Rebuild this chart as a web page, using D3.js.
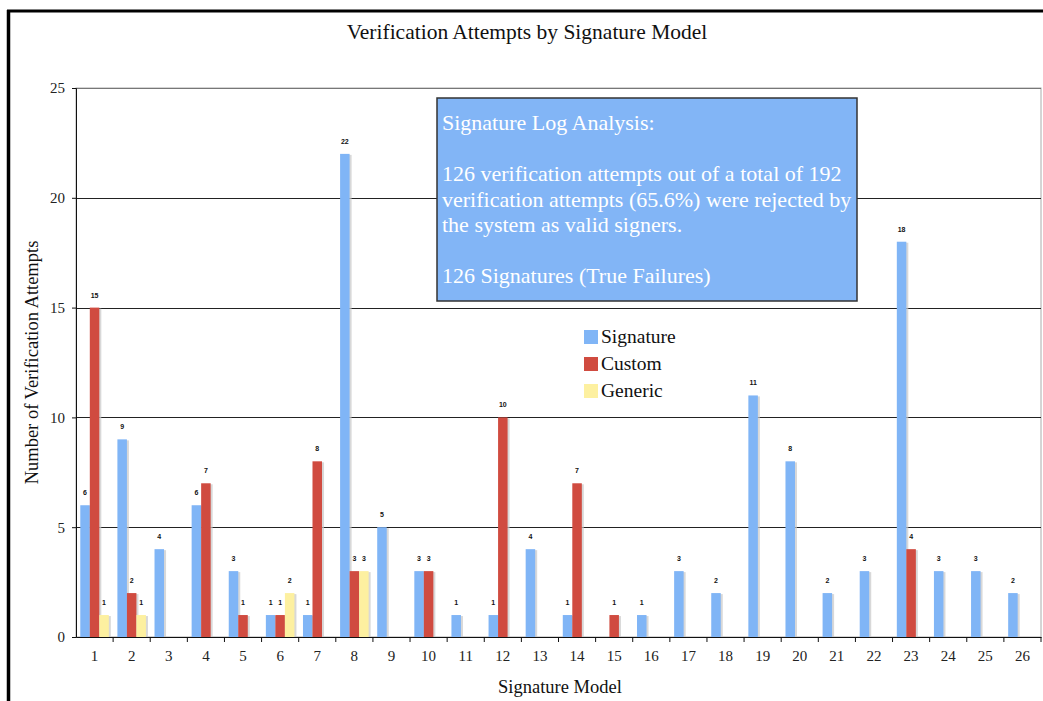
<!DOCTYPE html>
<html>
<head>
<meta charset="utf-8">
<script src="https://cdn.jsdelivr.net/npm/d3@7"></script>
<style>
  body { margin: 0; background: #fff; }
  svg { display: block; }
</style>
</head>
<body>
<svg id="chart"></svg>
<script>
const width = 1043;
const height = 701;

// data
const models = d3.range(1, 27).map(String);
const seriesNames = ["Signature", "Custom", "Generic"];
const signature = [6, 9, 4, 6, 3, 1, 1, 22, 5, 3, 1, 1, 4, 1, 0, 1, 3, 2, 11, 8, 2, 3, 18, 3, 3, 2];
const custom    = [15, 2, 0, 7, 1, 1, 8, 3, 0, 3, 0, 10, 0, 7, 1, 0, 0, 0, 0, 0, 0, 0, 4, 0, 0, 0];
const generic   = [1, 1, 0, 0, 0, 2, 0, 3, 0, 0, 0, 0, 0, 0, 0, 0, 0, 0, 0, 0, 0, 0, 0, 0, 0, 0];
const yTicks = [0, 5, 10, 15, 20, 25];
const boxLines = [
  "Signature Log Analysis:",
  "",
  "126 verification attempts out of a total of 192",
  "verification attempts (65.6%) were rejected by",
  "the system as valid signers.",
  "",
  "126 Signatures (True Failures)"
];

const colors = { Signature: "#80b5f6", Custom: "#d04b40", Generic: "#fdf0a0" };
const serif = "'Liberation Serif', 'Times New Roman', serif";

const margin = { top: 88, right: 2, bottom: 64, left: 76 };
const plotW = width - margin.left - margin.right;
const plotH = height - margin.top - margin.bottom;

const svg = d3.select("#chart").attr("width", width).attr("height", height);

// page frame (top + left only)
svg.append("line").attr("x1", 7).attr("x2", width).attr("y1", 11).attr("y2", 11)
  .attr("stroke", "#000").attr("stroke-width", 3);
svg.append("line").attr("x1", 8.5).attr("x2", 8.5).attr("y1", 10).attr("y2", height)
  .attr("stroke", "#000").attr("stroke-width", 3.5);

const g = svg.append("g").attr("transform", `translate(${margin.left},${margin.top})`);

const x = d3.scaleBand().domain(models).range([0, plotW]).paddingInner(0).paddingOuter(0);
const x1 = d3.scaleBand().domain(seriesNames)
  .range([0, x.bandwidth()]).paddingInner(0).paddingOuter(0.45);
const y = d3.scaleLinear().domain([0, 25]).range([plotH, 0]);

// plot frame
g.append("rect").attr("x", 0).attr("y", 0).attr("width", plotW).attr("height", plotH)
  .attr("fill", "none").attr("stroke", "#aaa");

// gridlines
g.selectAll(".grid").data(yTicks.filter(d => d > 0)).join("line")
  .attr("x1", 0).attr("x2", plotW)
  .attr("y1", d => Math.round(y(d)) + 0.5).attr("y2", d => Math.round(y(d)) + 0.5)
  .attr("stroke", d => d === 25 ? "#777" : "#222").attr("stroke-width", 1);

// bars
const rows = models.map((m, i) => ({
  model: m,
  values: [
    { key: "Signature", value: signature[i] },
    { key: "Custom", value: custom[i] },
    { key: "Generic", value: generic[i] }
  ]
}));

const groups = g.selectAll(".grp").data(rows).join("g")
  .attr("transform", d => `translate(${x(d.model)},0)`);

const bars = groups.selectAll(".bar").data(d => d.values.filter(v => v.value > 0)).join("g");

// soft shadow
bars.append("rect")
  .attr("x", d => x1(d.key) + 2)
  .attr("y", d => y(d.value) + 1)
  .attr("width", x1.bandwidth())
  .attr("height", d => plotH - y(d.value) - 1)
  .attr("fill", "#c8c8c8").attr("opacity", 0.7);

bars.append("rect")
  .attr("x", d => x1(d.key))
  .attr("y", d => y(d.value))
  .attr("width", x1.bandwidth())
  .attr("height", d => plotH - y(d.value))
  .attr("fill", d => colors[d.key]);

bars.append("text")
  .attr("x", d => x1(d.key) + x1.bandwidth() / 2)
  .attr("y", d => y(d.value) - 10)
  .attr("text-anchor", "middle")
  .attr("font-family", "'Liberation Sans', Arial, sans-serif")
  .attr("font-size", 7)
  .attr("font-weight", "bold")
  .attr("fill", "#111")
  .text(d => d.value);

// axes
const yAxis = g.append("g")
  .call(d3.axisLeft(y).tickValues(yTicks).tickSize(4).tickPadding(7));
const xAxis = g.append("g").attr("transform", `translate(0,${plotH})`)
  .call(d3.axisBottom(x).tickSize(0).tickPadding(13));

[yAxis, xAxis].forEach(a => {
  a.select(".domain").attr("stroke", "#111");
  a.selectAll("text").attr("font-family", serif).attr("font-size", 15).attr("fill", "#222");
});
yAxis.selectAll("line").attr("stroke", "#111");

// x ticks on band boundaries
g.append("g").selectAll("line").data(models.slice(1).concat(["end"])).join("line")
  .attr("x1", d => d === "end" ? plotW : x(d)).attr("x2", d => d === "end" ? plotW : x(d))
  .attr("y1", plotH).attr("y2", plotH + 5)
  .attr("stroke", "#111");
g.append("line").attr("x1", -4).attr("x2", 0).attr("y1", plotH + 0.5).attr("y2", plotH + 0.5)
  .attr("stroke", "#111");

// titles
svg.append("text")
  .attr("x", 527).attr("y", 39)
  .attr("text-anchor", "middle")
  .attr("font-family", serif).attr("font-size", 21.5).attr("fill", "#111")
  .text("Verification Attempts by Signature Model");

svg.append("text")
  .attr("x", 560).attr("y", 693)
  .attr("text-anchor", "middle")
  .attr("font-family", serif).attr("font-size", 18.5).attr("fill", "#111")
  .text("Signature Model");

svg.append("text")
  .attr("transform", `translate(38,${margin.top + plotH / 2}) rotate(-90)`)
  .attr("text-anchor", "middle")
  .attr("font-family", serif).attr("font-size", 18.5).attr("fill", "#111")
  .text("Number of Verification Attempts");

// legend
const legend = svg.append("g").attr("transform", "translate(584,330)");
seriesNames.forEach((name, i) => {
  legend.append("rect")
    .attr("x", 0).attr("y", i * 27)
    .attr("width", 14).attr("height", 14)
    .attr("fill", colors[name]);
  legend.append("text")
    .attr("x", 17).attr("y", i * 27 + 13)
    .attr("font-family", serif).attr("font-size", 19.5).attr("fill", "#111")
    .text(name);
});

// annotation box
const box = svg.append("g").attr("transform", "translate(437,98)");
box.append("rect")
  .attr("width", 420).attr("height", 203)
  .attr("fill", "#82b5f6").attr("stroke", "#333").attr("stroke-width", 1.5);
box.selectAll("text").data(boxLines).join("text")
  .attr("x", 5)
  .attr("y", (d, i) => 32 + i * 25.5)
  .attr("font-family", serif).attr("font-size", 22).attr("fill", "#fff")
  .text(d => d);
</script>
</body>
</html>
